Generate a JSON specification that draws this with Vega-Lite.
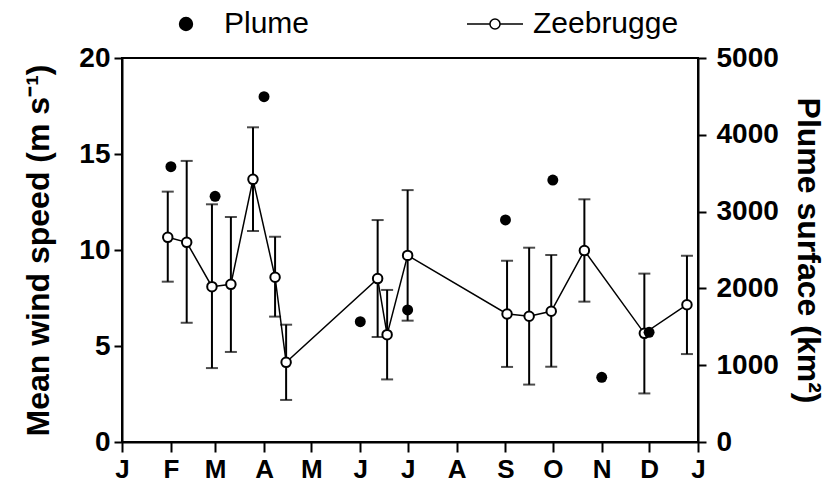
{
  "$schema": "https://vega.github.io/schema/vega-lite/v6.json",
  "width": 576,
  "height": 384,
  "autosize": {"type": "none"},
  "padding": {"left": 122, "top": 58, "right": 129, "bottom": 44},
  "background": "white",
  "config": {
    "view": {"stroke": "black", "strokeWidth": 2},
    "font": "Liberation Sans",
    "axis": {
      "domainColor": "black", "domainWidth": 2,
      "tickColor": "black", "tickWidth": 2, "tickSize": 8,
      "labelColor": "black", "labelFont": "Liberation Sans", "labelFontWeight": "bold", "labelFontSize": 28,
      "titleColor": "black", "titleFont": "Liberation Sans", "titleFontWeight": "bold", "titleFontSize": 32,
      "grid": false
    },
    "legend": {
      "orient": "none", "legendX": 35, "legendY": -63, "direction": "horizontal", "title": null,
      "symbolSize": 3136, "labelFontSize": 30, "labelFont": "Liberation Sans", "labelFontWeight": "normal",
      "labelColor": "black", "labelOffset": 9, "columnPadding": 154, "padding": 0,
      "symbolStrokeWidth": 1.5, "symbolOpacity": 1
    }
  },
  "datasets": {
    "zee": [
      {"date": "2001-01-30", "mean": 10.66, "lo": 8.35, "hi": 13.04},
      {"date": "2001-02-11", "mean": 10.40, "lo": 6.21, "hi": 14.64},
      {"date": "2001-02-27", "mean": 8.09, "lo": 3.85, "hi": 12.38},
      {"date": "2001-03-11", "mean": 8.21, "lo": 4.69, "hi": 11.72},
      {"date": "2001-03-25", "mean": 13.68, "lo": 10.99, "hi": 16.39},
      {"date": "2001-04-08", "mean": 8.58, "lo": 6.53, "hi": 10.69},
      {"date": "2001-04-15", "mean": 4.15, "lo": 2.19, "hi": 6.11},
      {"date": "2001-06-12", "mean": 8.51, "lo": 5.47, "hi": 11.56},
      {"date": "2001-06-18", "mean": 5.59, "lo": 3.26, "hi": 7.92},
      {"date": "2001-07-01", "mean": 9.72, "lo": 6.32, "hi": 13.12},
      {"date": "2001-09-02", "mean": 6.67, "lo": 3.91, "hi": 9.44},
      {"date": "2001-09-16", "mean": 6.55, "lo": 2.99, "hi": 10.12},
      {"date": "2001-09-30", "mean": 6.81, "lo": 3.92, "hi": 9.74},
      {"date": "2001-10-21", "mean": 9.97, "lo": 7.31, "hi": 12.64},
      {"date": "2001-11-28", "mean": 5.66, "lo": 2.53, "hi": 8.77},
      {"date": "2001-12-25", "mean": 7.15, "lo": 4.58, "hi": 9.70}
    ],
    "plume": [
      {"date": "2001-02-01", "area": 3585},
      {"date": "2001-03-01", "area": 3199},
      {"date": "2001-04-01", "area": 4496},
      {"date": "2001-06-01", "area": 1567},
      {"date": "2001-07-01", "area": 1719},
      {"date": "2001-09-01", "area": 2891},
      {"date": "2001-10-01", "area": 3411},
      {"date": "2001-11-01", "area": 842},
      {"date": "2001-12-01", "area": 1428}
    ]
  },
  "layer": [
    {
      "data": {"name": "zee"},
      "encoding": {
        "x": {
          "field": "date", "type": "temporal", "title": null,
          "scale": {"type": "utc", "domain": [{"year": 2001, "month": 1, "date": 1, "utc": true}, {"year": 2002, "month": 1, "date": 1, "utc": true}]},
          "axis": {
            "values": [
              {"year": 2001, "month": 1, "date": 1, "utc": true},
              {"year": 2001, "month": 2, "date": 1, "utc": true},
              {"year": 2001, "month": 3, "date": 1, "utc": true},
              {"year": 2001, "month": 4, "date": 1, "utc": true},
              {"year": 2001, "month": 5, "date": 1, "utc": true},
              {"year": 2001, "month": 6, "date": 1, "utc": true},
              {"year": 2001, "month": 7, "date": 1, "utc": true},
              {"year": 2001, "month": 8, "date": 1, "utc": true},
              {"year": 2001, "month": 9, "date": 1, "utc": true},
              {"year": 2001, "month": 10, "date": 1, "utc": true},
              {"year": 2001, "month": 11, "date": 1, "utc": true},
              {"year": 2001, "month": 12, "date": 1, "utc": true},
              {"year": 2002, "month": 1, "date": 1, "utc": true}
            ],
            "labelExpr": "slice(utcFormat(datum.value, '%b'), 0, 1)",
            "labelFontSize": 26, "tickSize": 10, "labelPadding": 4, "labelFlush": false, "labelOverlap": false
          }
        }
      },
      "layer": [
        {
          "mark": {"type": "rule", "color": "black", "strokeWidth": 2},
          "encoding": {
            "y": {
              "field": "lo", "type": "quantitative", "title": "Mean wind speed (m s⁻¹)",
              "scale": {"domain": [0, 20], "nice": false},
              "axis": {"values": [0, 5, 10, 15, 20], "labelPadding": 4, "titlePadding": 23}
            },
            "y2": {"field": "hi"}
          }
        },
        {
          "mark": {"type": "tick", "orient": "horizontal", "size": 12, "thickness": 2, "color": "black"},
          "encoding": {"y": {"field": "lo", "type": "quantitative", "title": "Mean wind speed (m s⁻¹)"}}
        },
        {
          "mark": {"type": "tick", "orient": "horizontal", "size": 12, "thickness": 2, "color": "black"},
          "encoding": {"y": {"field": "hi", "type": "quantitative", "title": "Mean wind speed (m s⁻¹)"}}
        },
        {
          "mark": {"type": "line", "color": "black", "strokeWidth": 1.5},
          "encoding": {"y": {"field": "mean", "type": "quantitative", "title": "Mean wind speed (m s⁻¹)"}}
        },
        {
          "mark": {"type": "point", "shape": "circle", "filled": true, "fill": "white", "stroke": "black", "strokeWidth": 2, "size": 90, "opacity": 1},
          "encoding": {
            "y": {"field": "mean", "type": "quantitative", "title": "Mean wind speed (m s⁻¹)"}
          }
        }
      ]
    },
    {
      "data": {"name": "plume"},
      "mark": {"type": "point", "shape": "circle", "filled": true, "color": "black", "size": 120, "opacity": 1},
      "encoding": {
        "x": {"field": "date", "type": "temporal", "title": null},
        "y": {
          "field": "area", "type": "quantitative", "title": "Plume surface (km²)",
          "scale": {"domain": [0, 5000], "nice": false},
          "axis": {"orient": "right", "values": [0, 1000, 2000, 3000, 4000, 5000], "format": "d", "labelPadding": 10, "titlePadding": 12, "titleAngle": 90}
        }
      }
    },
    {
      "data": {"values": []},
      "mark": {"type": "point", "filled": true, "strokeWidth": 1.5, "opacity": 1},
      "encoding": {
        "shape": {
          "field": "series", "type": "nominal",
          "scale": {
            "domain": ["Plume", "Zeebrugge"],
            "range": [
              "M-0.23,0A0.23,0.23,0,1,0,0.23,0A0.23,0.23,0,1,0,-0.23,0Z",
              "M-1,0H-0.18M0.18,0H1M-0.18,0A0.18,0.18,0,1,0,0.18,0A0.18,0.18,0,1,0,-0.18,0Z"
            ]
          }
        },
        "fill": {
          "field": "series", "type": "nominal",
          "scale": {"domain": ["Plume", "Zeebrugge"], "range": ["black", "white"]}
        },
        "stroke": {
          "field": "series", "type": "nominal",
          "scale": {"domain": ["Plume", "Zeebrugge"], "range": ["black", "black"]}
        }
      }
    }
  ],
  "resolve": {"scale": {"y": "independent"}}
}
